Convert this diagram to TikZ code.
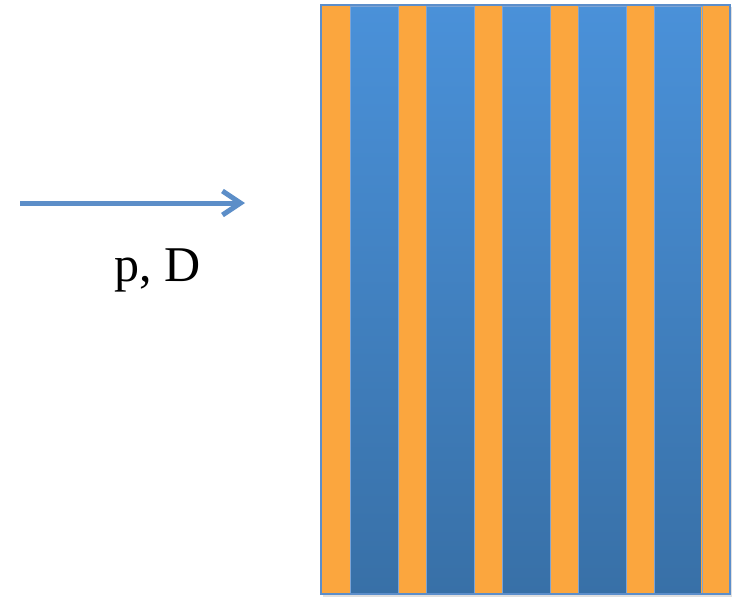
\documentclass[tikz,border=0pt]{standalone}
\usepackage{fontspec}
\setmainfont{Liberation Serif}
\usetikzlibrary{arrows.meta}
\definecolor{stripeorange}{RGB}{251,166,62}
\definecolor{bluetop}{RGB}{74,145,217}
\definecolor{bluebot}{RGB}{56,112,167}
\definecolor{edgeblue}{RGB}{92,142,202}
\definecolor{arrowblue}{RGB}{92,142,200}
\tikzset{
  orangestripe/.style={fill=stripeorange, draw=none},
  arrowline/.style={draw=arrowblue, line width=5pt, -{Straight Barb[length=18pt,width=24pt,line width=5pt]}},
  labeltext/.style={font=\fontsize{50}{50}\selectfont, inner sep=0pt, anchor=base}
}
\begin{document}
\begin{tikzpicture}[x=1pt,y=-1pt]
\useasboundingbox (0,0) rectangle (732,598);
\fill[black!12] (323,7) rectangle (732,597);
\fill[top color=bluetop, bottom color=bluebot] (321,5) rectangle (730,594);
\foreach \xs in {322,398,474,550,626,701}{
  \fill[orangestripe] (\xs,6) rectangle (\xs+28.5,593);
}
\foreach \xs in {350.5,426.5,502.5,578.5,654.5}{
  \draw[edgeblue!80!white, line width=1pt] (\xs,6) rectangle (\xs+47.5,593);
}
\draw[edgeblue, line width=2pt] (321,5) rectangle (730,594);
\coordinate (astart) at (20,203);
\coordinate (aend) at (245,203);
\draw[arrowline] (astart) -- (aend);
\node[labeltext] (lbl) at (158,281) {p, D};
\end{tikzpicture}
\end{document}
